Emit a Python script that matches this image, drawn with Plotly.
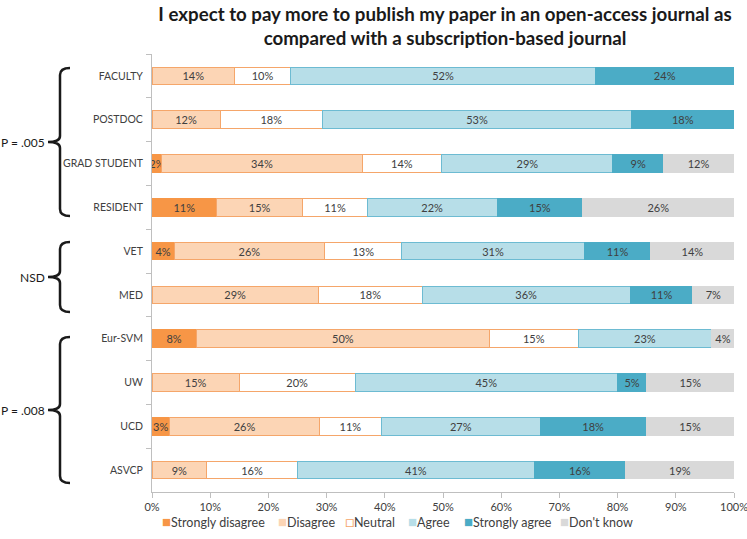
import plotly.graph_objects as go

# Respondent groups, top to bottom
groups = ['FACULTY', 'POSTDOC', 'GRAD STUDENT', 'RESIDENT', 'VET', 'MED',
          'Eur-SVM', 'UW', 'UCD', 'ASVCP']

# Percentages per response
strongly_disagree = [0, 0, 1.7, 11.1, 3.8, 0, 7.6, 0, 3.0, 0]
disagree = [14.2, 11.7, 34.4, 14.8, 25.9, 28.6, 50.4, 15.0, 25.8, 9.4]
neutral = [9.6, 17.6, 13.7, 11.1, 13.2, 17.8, 15.2, 19.9, 10.6, 15.6]
agree = [52.4, 53.1, 29.4, 22.3, 31.4, 35.8, 23.0, 45.1, 27.3, 40.7]
strongly_agree = [23.8, 17.6, 8.7, 14.7, 11.4, 10.7, 0, 5.0, 18.2, 15.6]
dont_know = [0, 0, 12.0, 26.0, 14.3, 7.1, 3.8, 15.0, 15.1, 18.8]

series = [
    ('Strongly disagree', strongly_disagree, '#F79646', '#F79646'),
    ('Disagree', disagree, '#FCD5B5', '#F5A66A'),
    ('Neutral', neutral, '#FFFFFF', '#F5A66A'),
    ('Agree', agree, '#B7DEE8', '#6DBBD2'),
    ('Strongly agree', strongly_agree, '#4BACC6', '#4BACC6'),
    ("Don't know", dont_know, '#D9D9D9', '#D9D9D9'),
]

FONT = 'Lato'
TXT = '#404040'

fig = go.Figure()
for name, vals, fill, edge in series:
    fig.add_trace(go.Bar(
        y=groups, x=vals, name=name, orientation='h',
        marker=dict(color=fill, line=dict(color=edge, width=1)),
        text=[f'{round(v)}%' if v > 0 else '' for v in vals],
        textposition='inside', insidetextanchor='middle', textangle=0,
        textfont=dict(size=11, color=TXT, family=FONT),
        width=0.4, showlegend=False,
    ))

FW, FH = 747, 539
# plot area in pixels
L, R, T, B = 152, 734, 54, 492
W, H = R - L, B - T


def px(x):
    return (x - L) / W


def py(y):
    return (B - y) / H


def brace(top, bottom, xv=60):
    mid = (top + bottom) / 2
    pts = [
        f'M {px(xv + 10)},{py(top)}',
        f'Q {px(xv)},{py(top)} {px(xv)},{py(top + 7)}',
        f'L {px(xv)},{py(mid - 6)}',
        f'Q {px(xv)},{py(mid)} {px(xv - 12)},{py(mid)}',
        f'Q {px(xv)},{py(mid)} {px(xv)},{py(mid + 6)}',
        f'L {px(xv)},{py(bottom - 7)}',
        f'Q {px(xv)},{py(bottom)} {px(xv + 10)},{py(bottom)}',
    ]
    return dict(type='path', xref='paper', yref='paper', path=' '.join(pts),
                line=dict(color='#1A1A1A', width=2.5))


braces = [(68, 216, 'P = .005'), (242, 312, 'NSD'), (337, 483, 'P = .008')]
for top, bottom, label in braces:
    fig.add_shape(brace(top, bottom))
    fig.add_annotation(x=px(47), y=py((top + bottom) / 2), xref='paper', yref='paper',
                       text=label, showarrow=False, xanchor='right', yanchor='middle',
                       font=dict(size=12, color='#1A1A1A', family=FONT))

# legend row: symbol + label, laid out like the original
legend_x = [162, 278, 345, 408, 464, 560]
legend_sym = ['■', '■', '□', '■', '■', '■']
for (name, vals, fill, edge), lx, sym in zip(series, legend_x, legend_sym):
    col = edge if sym == '□' else fill
    fig.add_annotation(x=px(lx - 2), y=py(521), xref='paper', yref='paper',
                       text=f'<span style="color:{col};font-size:15px">{sym}</span>{name}',
                       showarrow=False, xanchor='left', yanchor='middle',
                       font=dict(size=12.5, color=TXT, family=FONT))

fig.update_layout(
    barmode='stack',
    width=FW, height=FH,
    margin=dict(l=L, r=FW - R, t=T, b=FH - B, autoexpand=False),
    plot_bgcolor='white', paper_bgcolor='white',
    font=dict(family=FONT, color=TXT, size=12),
    title=dict(text='<b>I expect to pay more to publish my paper in an open-access journal as<br>'
                    'compared with a subscription-based journal</b>',
               x=px(445), xref='paper', xanchor='center',
               y=1 - 21 / FH, yref='container', yanchor='top',
               font=dict(size=18.7, color='#1A1A1A', family=FONT)),
    uniformtext=dict(minsize=11, mode='show'),
    showlegend=False,
)
fig.update_xaxes(range=[0, 100], dtick=10, ticksuffix='%', showgrid=False, zeroline=False,
                 showline=True, linecolor='#BFBFBF', ticks='outside', ticklen=5,
                 tickcolor='#BFBFBF', tickfont=dict(size=11, color=TXT), automargin=False,
                 ticklabeloverflow='allow')
fig.update_yaxes(autorange='reversed', showgrid=False, showline=True, linecolor='#BFBFBF',
                 ticks='outside', tickson='boundaries', ticklen=5, tickcolor='#BFBFBF',
                 ticklabelstandoff=6, tickfont=dict(size=10.5, color=TXT), automargin=False)

# drop the browser's default 8px page margin so the figure fills the window
fig.write_html('out.html', config={'displayModeBar': False},
               post_script="document.body.style.margin = '0';")
